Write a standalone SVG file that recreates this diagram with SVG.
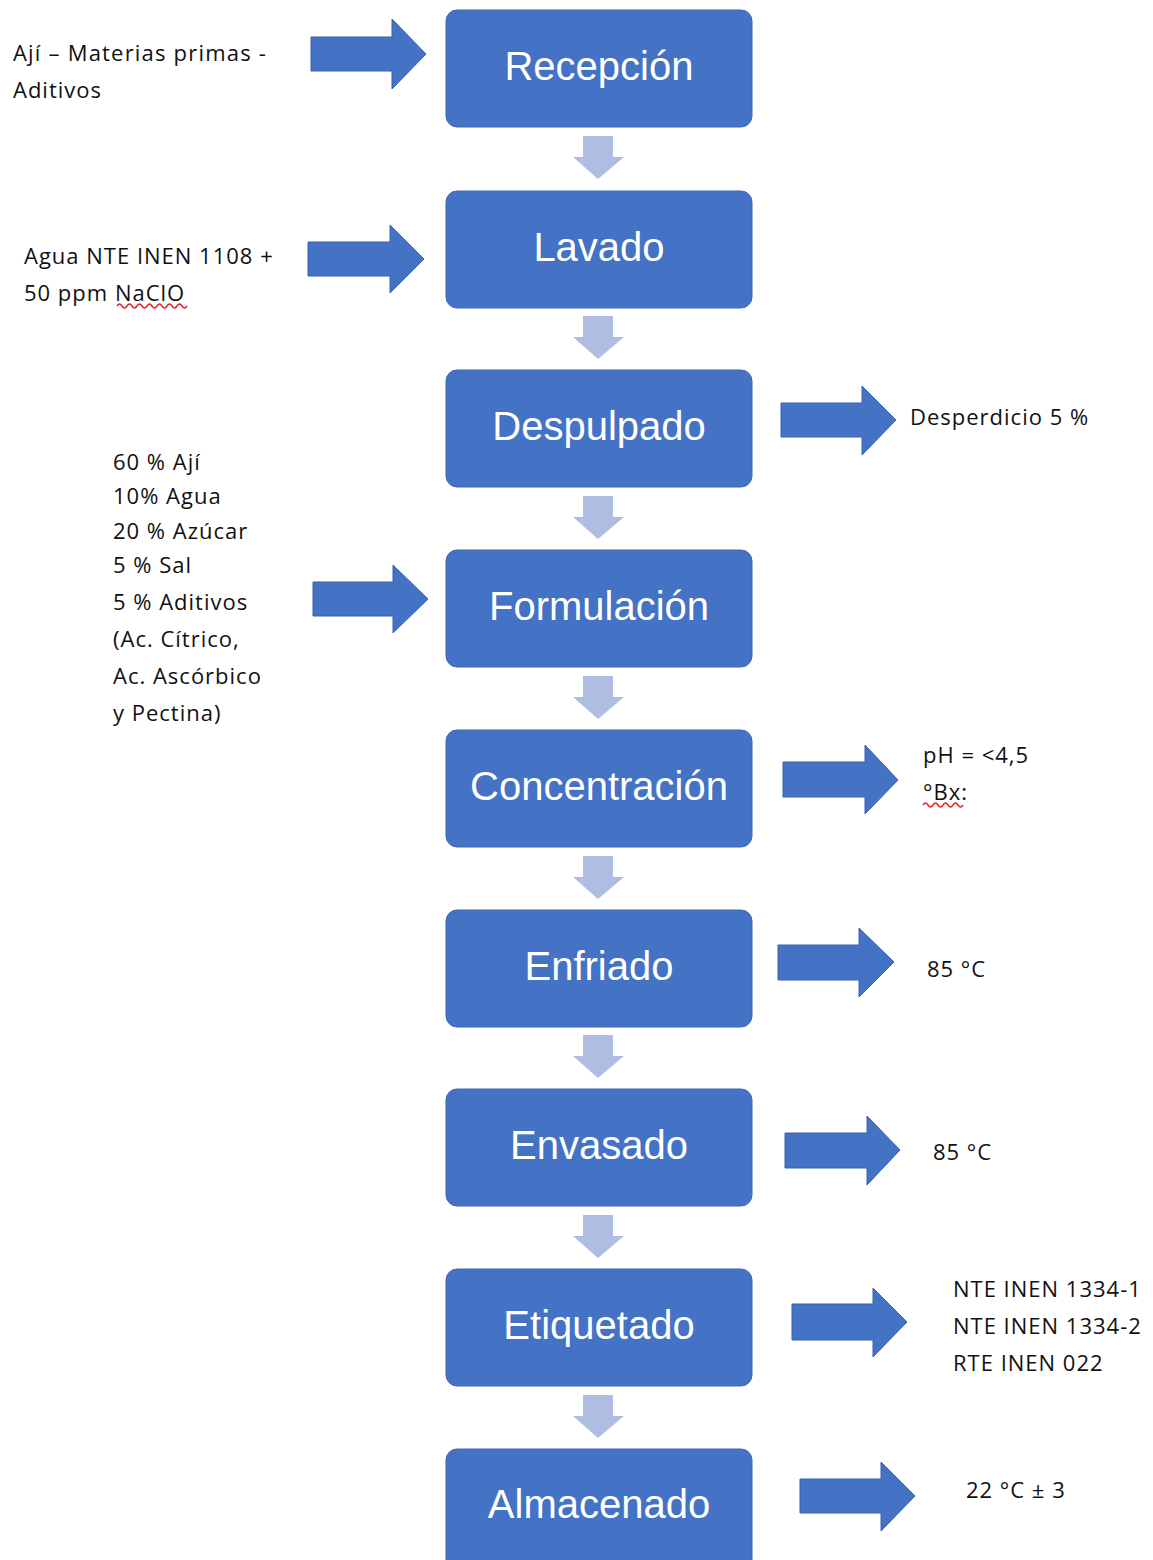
<svg xmlns="http://www.w3.org/2000/svg" width="1153" height="1560" viewBox="0 0 1153 1560">
<style>
.box{fill:#4472C4;stroke:#3F69B5;stroke-width:1}
.bt{font-family:"Liberation Sans",Arial,sans-serif;font-size:40px;fill:#FFFFFF;text-anchor:middle}
.st{font-family:"Open Sans","Liberation Sans",sans-serif;font-size:22px;fill:#111111;letter-spacing:1px}
.big{fill:#4472C4;stroke:#3A62AE;stroke-width:1}
.down{fill:#B0BDE2}
.sq{fill:none;stroke:#E8242A;stroke-width:1.5}
</style>
<rect width="1153" height="1560" fill="#FFFFFF"/>
<g id="connectors">
  <path class="down" d="M583,136 H613 V157 H624 L598,179 L573,157 H583 Z"/>
  <path class="down" d="M583,316 H613 V337 H624 L598,359 L573,337 H583 Z"/>
  <path class="down" d="M583,496 H613 V517 H624 L598,539 L573,517 H583 Z"/>
  <path class="down" d="M583,676 H613 V697 H624 L598,719 L573,697 H583 Z"/>
  <path class="down" d="M583,856 H613 V877 H624 L598,899 L573,877 H583 Z"/>
  <path class="down" d="M583,1035 H613 V1056 H624 L598,1078 L573,1056 H583 Z"/>
  <path class="down" d="M583,1215 H613 V1236 H624 L598,1258 L573,1236 H583 Z"/>
  <path class="down" d="M583,1395 H613 V1416 H624 L598,1438 L573,1416 H583 Z"/>
  <path class="big" d="M311,37 H392 V19 L426,54 L392,89 V71 H311 Z"/>
  <path class="big" d="M308,242 H390 V225 L424,259 L390,293 V276 H308 Z"/>
  <path class="big" d="M781,403 H862 V386 L896,420 L862,455 V437 H781 Z"/>
  <path class="big" d="M313,582 H393 V565 L428,599 L393,633 V616 H313 Z"/>
  <path class="big" d="M783,762 H865 V745 L898,780 L865,814 V797 H783 Z"/>
  <path class="big" d="M778,945 H859 V928 L894,962 L859,997 V980 H778 Z"/>
  <path class="big" d="M785,1133 H867 V1116 L900,1150 L867,1185 V1168 H785 Z"/>
  <path class="big" d="M792,1304 H873 V1288 L907,1322 L873,1357 V1340 H792 Z"/>
  <path class="big" d="M800,1479 H881 V1462 L915,1496 L881,1531 V1513 H800 Z"/>
</g>
<g id="n1"><rect class="box" x="446" y="10" width="306" height="117" rx="11"/><text class="bt" x="599" y="80">Recepción</text></g>
<g id="n2"><rect class="box" x="446" y="191" width="306" height="117" rx="11"/><text class="bt" x="599" y="261">Lavado</text></g>
<g id="n3"><rect class="box" x="446" y="370" width="306" height="117" rx="11"/><text class="bt" x="599" y="440">Despulpado</text></g>
<g id="n4"><rect class="box" x="446" y="550" width="306" height="117" rx="11"/><text class="bt" x="599" y="620">Formulación</text></g>
<g id="n5"><rect class="box" x="446" y="730" width="306" height="117" rx="11"/><text class="bt" x="599" y="800">Concentración</text></g>
<g id="n6"><rect class="box" x="446" y="910" width="306" height="117" rx="11"/><text class="bt" x="599" y="980">Enfriado</text></g>
<g id="n7"><rect class="box" x="446" y="1089" width="306" height="117" rx="11"/><text class="bt" x="599" y="1159">Envasado</text></g>
<g id="n8"><rect class="box" x="446" y="1269" width="306" height="117" rx="11"/><text class="bt" x="599" y="1339">Etiquetado</text></g>
<g id="n9"><rect class="box" x="446" y="1449" width="306" height="130" rx="11"/><text class="bt" x="599" y="1518">Almacenado</text></g>
<g id="labels">
  <text class="st" x="13" y="61" style="letter-spacing:1.2px">Ají – Materias primas -</text>
  <text class="st" x="13" y="98">Aditivos</text>
  <text class="st" x="24" y="264">Agua NTE INEN 1108 +</text>
  <text class="st" x="24" y="301">50 ppm NaClO</text>
  <path class="sq" d="M117,306 q2.5,-4 5,0 t5,0 t5,0 t5,0 t5,0 t5,0 t5,0 t5,0 t5,0 t5,0 t5,0 t5,0 t5,0 t5,0"/>
  <text class="st" x="910" y="425">Desperdicio 5 %</text>
  <text class="st" x="113" y="470">60 % Ají</text>
  <text class="st" x="113" y="504">10% Agua</text>
  <text class="st" x="113" y="539">20 % Azúcar</text>
  <text class="st" x="113" y="573">5 % Sal</text>
  <text class="st" x="113" y="610">5 % Aditivos</text>
  <text class="st" x="113" y="647">(Ac. Cítrico,</text>
  <text class="st" x="113" y="684">Ac. Ascórbico</text>
  <text class="st" x="113" y="721">y Pectina)</text>
  <text class="st" x="923" y="763">pH = &lt;4,5</text>
  <text class="st" x="923" y="800">°Bx:</text>
  <path class="sq" d="M923,805 q2.5,-4 5,0 t5,0 t5,0 t5,0 t5,0 t5,0 t5,0 t5,0"/>
  <text class="st" x="927" y="977">85 °C</text>
  <text class="st" x="933" y="1160">85 °C</text>
  <text class="st" x="953" y="1297">NTE INEN 1334-1</text>
  <text class="st" x="953" y="1334">NTE INEN 1334-2</text>
  <text class="st" x="953" y="1371">RTE INEN 022</text>
  <text class="st" x="966" y="1498">22 °C ± 3</text>
</g>
</svg>
